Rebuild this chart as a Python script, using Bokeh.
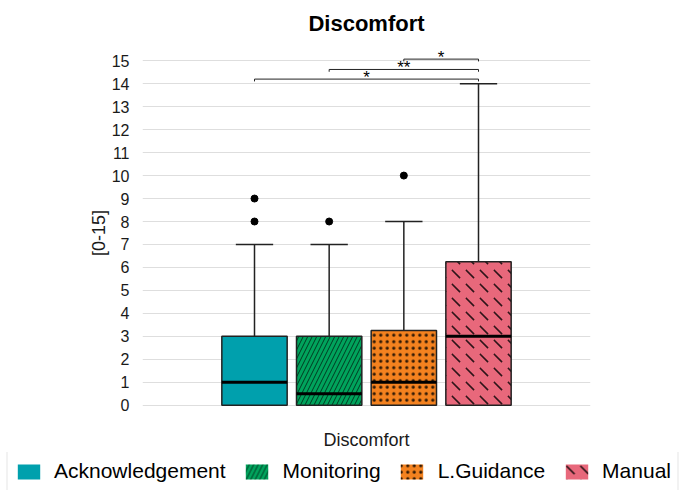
from bokeh.plotting import figure
from bokeh.models import Range1d, FixedTicker, Legend, LegendItem, ColumnDataSource
from bokeh.core.properties import value
from bokeh.embed import file_html
from bokeh.resources import INLINE

# ---- data ----
groups = ["Acknowledgement", "Monitoring", "L.Guidance", "Manual"]
q1 = [0, 0, 0, 0]
medians = [1, 0.5, 1, 3]
q3 = [3, 3, 3.25, 6.25]
lower = [0, 0, 0, 0]
upper = [7, 7, 8, 14]
outlier_group = [0, 0, 1, 2]
outlier_value = [8, 9, 8, 10]
sig_from = [0, 1, 2]
sig_to = [3, 3, 3]
sig_y = [14.2, 14.62, 15.07]
sig_label = ["*", "**", "*"]
y_ticks = list(range(0, 16))

# ---- styles ----
colors = ["#00A0AD", "#00A35C", "#F4821F", "#E8687B"]
hatches = [" ", "/", ".", "`"]
hatch_scales = [10, 9, 6.5, 14]
hatch_weights = [1, 0.8, 1.6, 1.6]
FONT = "Liberation Sans"
dodge = 0.2
box_w = 0.175
cap_w = 0.1

def xpos(i):
    return 1 + (i - (len(groups) - 1) / 2) * dodge

xs = [xpos(i) for i in range(len(groups))]

p = figure(width=685, height=452, output_backend="svg", toolbar_location=None,
           x_range=Range1d(0.4, 1.6), y_range=Range1d(-0.75, 15.75),
           min_border_left=142, min_border_right=95, min_border_top=43, min_border_bottom=30)
p.outline_line_color = None
p.background_fill_color = "white"
p.border_fill_color = "white"
p.xgrid.grid_line_color = None
p.ygrid.grid_line_color = "#DEDEDE"
p.ygrid.grid_line_width = 1

p.title.text = "Discomfort"
p.title.text_font = FONT
p.title.text_font_size = "22px"
p.title.text_font_style = "bold"
p.title.align = "center"
p.title.text_line_height = 0.7
p.title.standoff = 16
p.title.text_color = "black"

p.yaxis.ticker = FixedTicker(ticks=y_ticks)
p.yaxis.axis_line_color = None
p.yaxis.major_tick_line_color = None
p.yaxis.minor_tick_line_color = None
p.yaxis.major_label_text_font = FONT
p.yaxis.major_label_text_font_size = "16px"
p.yaxis.major_label_text_color = "#1a1a1a"
p.yaxis.major_label_standoff = 7
p.yaxis.axis_label = "[0-15]"
p.yaxis.axis_label_text_font = FONT
p.yaxis.axis_label_text_font_size = "18px"
p.yaxis.axis_label_text_font_style = "normal"
p.yaxis.axis_label_text_color = "#1a1a1a"
p.yaxis.axis_label_standoff = 0

p.xaxis.ticker = FixedTicker(ticks=[1])
p.xaxis.major_label_overrides = {1: "Discomfort"}
p.xaxis.axis_line_color = None
p.xaxis.major_tick_line_color = None
p.xaxis.minor_tick_line_color = None
p.xaxis.major_label_text_font = FONT
p.xaxis.major_label_text_font_size = "18px"
p.xaxis.major_label_text_color = "#1a1a1a"
p.xaxis.major_label_standoff = 1

# whiskers
p.segment(x0=xs, y0=q3, x1=xs, y1=upper, line_color="#222222", line_width=1.5)
p.segment(x0=xs, y0=q1, x1=xs, y1=lower, line_color="#222222", line_width=1.5)
p.segment(x0=[x - cap_w / 2 for x in xs], y0=upper, x1=[x + cap_w / 2 for x in xs], y1=upper,
          line_color="#222222", line_width=1.5)

# boxes
src = ColumnDataSource(dict(x=xs, bottom=q1, top=q3, color=colors, hatch=hatches,
                            hscale=hatch_scales, hweight=hatch_weights))
p.vbar(x="x", bottom="bottom", top="top", width=box_w, source=src,
       fill_color="color", line_color="#222222", line_width=1.5,
       hatch_pattern="hatch", hatch_scale="hscale", hatch_weight="hweight",
       hatch_color="black", hatch_alpha=0.8)

# medians
p.segment(x0=[x - box_w / 2 for x in xs], y0=medians, x1=[x + box_w / 2 for x in xs], y1=medians,
          line_color="black", line_width=3)

# outliers
p.scatter(x=[xs[g] for g in outlier_group], y=outlier_value, size=7, color="black")

# significance brackets
tick = 0.1
bx0 = [xs[a] for a in sig_from]
bx1 = [xs[b] for b in sig_to]
p.segment(x0=bx0, y0=sig_y, x1=bx1, y1=sig_y, line_color="#222222", line_width=1)
p.segment(x0=bx0, y0=sig_y, x1=bx0, y1=[y - tick for y in sig_y], line_color="#222222", line_width=1)
p.segment(x0=bx1, y0=sig_y, x1=bx1, y1=[y - tick for y in sig_y], line_color="#222222", line_width=1)
p.text(x=[(a + b) / 2 for a, b in zip(bx0, bx1)], y=sig_y, text=sig_label,
       text_font=value(FONT), text_font_size="17px", text_align="center",
       text_baseline="alphabetic", y_offset=-2, text_color="black")

# ---- legend strip (separate root, full-width frame; boxes themselves are out of view) ----
lg = figure(width=685, height=38, output_backend="svg", toolbar_location=None,
            x_range=Range1d(0.4, 1.6), y_range=Range1d(100, 101),
            min_border_left=0, min_border_right=0, min_border_top=0, min_border_bottom=0)
lg.axis.visible = False
lg.grid.visible = False
lg.outline_line_color = None
lg.border_fill_color = "white"
items = []
for i, g in enumerate(groups):
    r = lg.vbar(x=[xs[i]], bottom=[q1[i]], top=[q3[i]], width=box_w,
                fill_color=colors[i], line_color=None,
                hatch_pattern=hatches[i], hatch_scale=hatch_scales[i],
                hatch_weight=hatch_weights[i], hatch_color="black", hatch_alpha=0.8)
    items.append(LegendItem(label=g, renderers=[r]))
leg = Legend(items=items, orientation="horizontal", location="center",
             glyph_width=28, glyph_height=19, label_text_font=FONT,
             label_text_font_size="21px", label_text_color="black", label_standoff=12,
             label_height=21, spacing=17, padding=7, margin=0,
             border_line_color="#CCCCCC", border_line_width=1.5,
             background_fill_color="white")
lg.add_layout(leg, "center")

open("out.html", "w").write(file_html([p, lg], INLINE))
